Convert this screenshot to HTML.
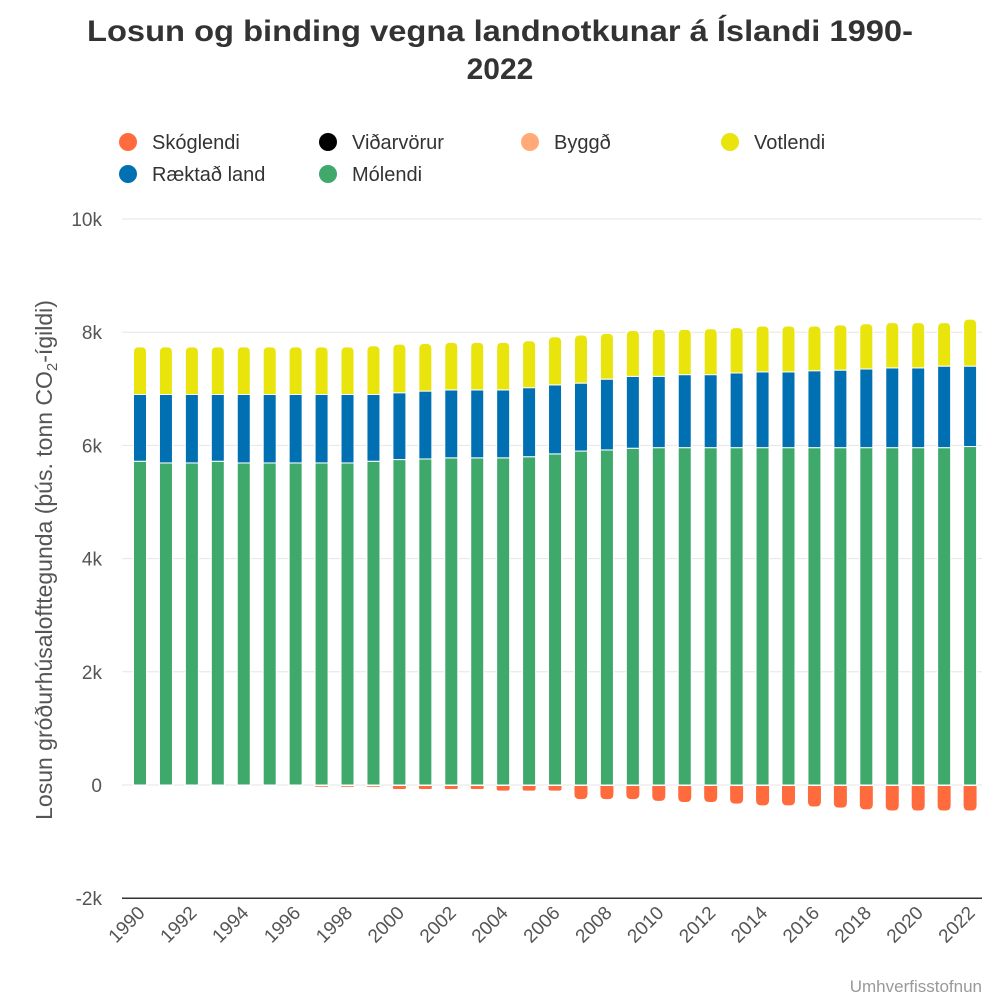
<!DOCTYPE html>
<html><head><meta charset="utf-8">
<style>
body{margin:0;background:#fff;font-family:"Liberation Sans",sans-serif;}
svg text{font-family:"Liberation Sans",sans-serif;}
</style></head>
<body>
<svg id="chart" width="1000" height="1000" viewBox="0 0 1000 1000" xmlns="http://www.w3.org/2000/svg">
<text x="500" y="41" text-anchor="middle" font-size="30" font-weight="bold" fill="#333" textLength="826" lengthAdjust="spacingAndGlyphs">Losun og binding vegna landnotkunar á Íslandi 1990-</text>
<text x="500" y="79" text-anchor="middle" font-size="30" font-weight="bold" fill="#333">2022</text>
<g id="legend"></g>
<g id="grid"></g>
<g id="bars"></g>
<g id="xaxis"></g>
<text transform="translate(52,560) rotate(-90)" text-anchor="middle" font-size="23" fill="#555">Losun gróðurhúsalofttegunda (þús. tonn CO<tspan font-size="15" dy="5">2</tspan><tspan dy="-5">-ígildi)</tspan></text>
<text x="982" y="992" text-anchor="end" font-size="17" fill="#999">Umhverfisstofnun</text>
</svg>
<script>
const years=[];for(let y=1990;y<=2022;y++)years.push(y);
const molendi=[5.72,5.69,5.69,5.72,5.69,5.69,5.69,5.69,5.69,5.72,5.75,5.76,5.78,5.78,5.78,5.80,5.85,5.90,5.92,5.95,5.96,5.96,5.96,5.96,5.96,5.96,5.96,5.96,5.96,5.96,5.96,5.96,5.98];
const raektad=[1.18,1.21,1.21,1.18,1.21,1.21,1.21,1.21,1.21,1.18,1.18,1.20,1.20,1.20,1.20,1.22,1.22,1.20,1.25,1.27,1.26,1.29,1.29,1.32,1.34,1.34,1.36,1.37,1.39,1.41,1.41,1.44,1.42];
const votlendi=[0.84,0.84,0.84,0.84,0.84,0.84,0.84,0.84,0.84,0.86,0.86,0.84,0.84,0.84,0.84,0.83,0.85,0.85,0.81,0.81,0.83,0.80,0.81,0.80,0.81,0.81,0.79,0.80,0.80,0.80,0.80,0.77,0.83];
const skoglendi=[0,0,0,0,0,0,0,-0.03,-0.03,-0.03,-0.07,-0.07,-0.07,-0.07,-0.1,-0.1,-0.1,-0.25,-0.25,-0.25,-0.28,-0.3,-0.3,-0.33,-0.36,-0.36,-0.38,-0.4,-0.43,-0.45,-0.45,-0.45,-0.45];
const yTicks=[-2,0,2,4,6,8,10];
const yTickLabels=["-2k","0","2k","4k","6k","8k","10k"];
const NS="http://www.w3.org/2000/svg";
function Y(v){return 785-v*56.6;}
function X(i){return 140+i*25.94;}
function mk(tag,attrs,parent){const e=document.createElementNS(NS,tag);for(const k in attrs)e.setAttribute(k,attrs[k]);parent.appendChild(e);return e;}
const grid=document.getElementById('grid');
yTicks.forEach((t,i)=>{
  const l=mk('line',{x1:122,x2:982,y1:Y(t),y2:Y(t),stroke:t===-2?'#333':'#e6e6e6','stroke-width':t===-2?1.5:1},grid);
  
  
  const tx=mk('text',{x:102,y:Y(t)+7,'text-anchor':'end','font-size':19,fill:'#555'},grid);
  tx.textContent=yTickLabels[i];
  
  
});
const bars=document.getElementById('bars');
const w=13;
function roundTop(x,y0,y1,r){ // y1 top, y0 bottom
  return `M${x},${y0} L${x},${y1+r} Q${x},${y1} ${x+r},${y1} L${x+w-r},${y1} Q${x+w},${y1} ${x+w},${y1+r} L${x+w},${y0} Z`;
}
function roundBottom(x,y0,y1,r){ // y0 top, y1 bottom
  r=Math.min(r,(y1-y0)/2);
  return `M${x},${y0} L${x},${y1-r} Q${x},${y1} ${x+r},${y1} L${x+w-r},${y1} Q${x+w},${y1} ${x+w},${y1-r} L${x+w},${y0} Z`;
}
years.forEach((yr,i)=>{
  const x=X(i)-w/2;
  const segs=[[0,molendi[i],'#3fa86b'],[molendi[i],molendi[i]+raektad[i],'#0070b3'],[molendi[i]+raektad[i],molendi[i]+raektad[i]+votlendi[i],'#e8e40c']];
  segs.forEach((s,k)=>{
    let r;
    if(k===2){r=mk('path',{d:roundTop(x,Y(s[0]),Y(s[1]),5),fill:s[2],stroke:'#fff','stroke-width':1},bars);}
    else r=mk('rect',{x:x,y:Y(s[1]),width:w,height:Y(s[0])-Y(s[1]),fill:s[2],stroke:'#fff','stroke-width':1},bars);
    
    
  });
  if(skoglendi[i]<0){
    const r=mk('path',{d:roundBottom(x,Y(0)+1,Y(skoglendi[i]),5),fill:'#ff6b3d'},bars);
    
    
  }
});
const xa=document.getElementById('xaxis');
years.forEach((yr,i)=>{
  if(yr%2)return;
  const t=mk('text',{transform:`translate(${X(i)+6},${914}) rotate(-45)`,'text-anchor':'end','font-size':19,fill:'#555'},xa);
  t.textContent=yr;
  
  
});
const legendItems=[["Skóglendi","#ff6b3d",128,142],["Viðarvörur","#000",328,142],["Byggð","#ffaa77",530,142],["Votlendi","#e8e40c",730,142],["Ræktað land","#0070b3",128,174],["Mólendi","#3fa86b",328,174]];
const lg=document.getElementById('legend');
legendItems.forEach(it=>{
  const g=mk('g',{},lg);
  
  
  mk('circle',{cx:it[2],cy:it[3],r:9,fill:it[1]},g);
  const t=mk('text',{x:it[2]+24,y:it[3]+7,'font-size':20,fill:'#333'},g);
  t.textContent=it[0];
});
</script>
</body></html>
